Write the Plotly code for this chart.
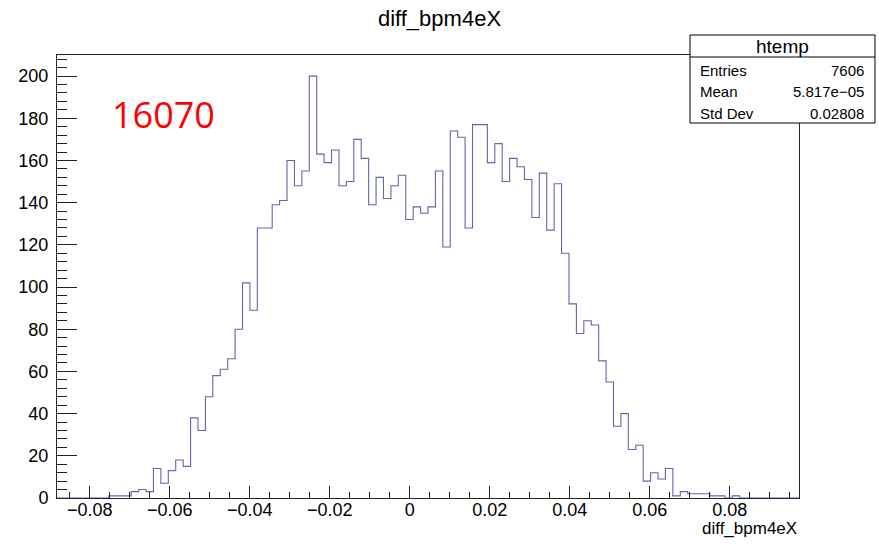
import numpy as np
import plotly.graph_objects as go

# ---- data ----
title_text = "diff_bpm4eX"
x_title = "diff_bpm4eX"
hist_name = "htemp"
x_min = -0.0882
x_max = 0.0973
n_bins = 100
counts = [0, 0, 0, 0, 0, 0, 0, 1, 1, 1,
          3, 4, 3, 14, 7, 13, 18, 15, 38, 32,
          48, 58, 61, 66, 80, 102, 89, 128, 128, 139,
          141, 160, 148, 155, 200, 163, 159, 165, 148, 150,
          170, 161, 139, 152, 142, 148, 153, 132, 138, 135,
          138, 155, 119, 174, 171, 128, 177, 177, 159, 168,
          150, 161, 157, 151, 133, 154, 127, 149, 116, 92,
          78, 84, 82, 65, 55, 34, 40, 23, 25, 8,
          12, 9, 14, 1, 3, 2, 2, 2, 1, 1,
          0, 1, 0, 0, 0, 0, 0, 0, 0, 0]
x_tick_vals = [-0.08, -0.06, -0.04, -0.02, 0, 0.02, 0.04, 0.06, 0.08]
x_tick_text = ["\u22120.08", "\u22120.06", "\u22120.04", "\u22120.02", "0", "0.02", "0.04", "0.06", "0.08"]
stats_labels = ["Entries", "Mean", "Std Dev"]
stats_values = ["7606", "5.817e\u221205", "0.02808"]
run_label = "16070"
y_max = 210

# ---- layout geometry (pixels) ----
W, H = 879, 544
L, R, T, B = 57, 80, 55, 46
pw, ph = W - L - R, H - T - B


def px_x(px):
    return (px - L) / pw


def px_y(py):
    return (H - B - py) / ph


edges = np.linspace(x_min, x_max, n_bins + 1)
ys = list(counts) + [counts[-1]]

FONT = "Liberation Sans, Arial, Helvetica, sans-serif"
hist_color = "#6464b0"
axis_color = "#222222"

fig = go.Figure()
fig.add_trace(go.Scatter(
    x=edges, y=ys, mode="lines", line_shape="hv",
    line=dict(color=hist_color, width=1.1), hoverinfo="skip", showlegend=False,
    cliponaxis=False,
))

fig.update_layout(
    width=W, height=H,
    margin=dict(l=L, r=R, t=T, b=B, pad=0, autoexpand=False),
    paper_bgcolor="white", plot_bgcolor="white",
    font=dict(family=FONT, size=16, color="black"),
    title=dict(text=title_text, x=0.5, xref="container", xanchor="center",
               y=1 - 18 / H, yref="container", yanchor="middle",
               font=dict(family=FONT, size=22, color="black")),
    showlegend=False,
)

fig.update_xaxes(
    range=[x_min, x_max], showgrid=False, zeroline=False, automargin=False,
    showline=True, linecolor=axis_color, linewidth=1, mirror=True,
    ticks="inside", ticklen=12, tickwidth=1, tickcolor=axis_color,
    tickmode="array", tickvals=x_tick_vals, ticktext=x_tick_text, tickangle=0,
    minor=dict(ticks="inside", ticklen=6, tickcolor=axis_color, dtick=0.005, tick0=0, showgrid=False),
    tickfont=dict(family=FONT, size=18),
    ticklabelstandoff=-5,
)
fig.update_yaxes(
    range=[0, y_max], showgrid=False, zeroline=False, automargin=False,
    showline=True, linecolor=axis_color, linewidth=1, mirror=True,
    ticks="inside", ticklen=20, tickwidth=1, tickcolor=axis_color,
    tick0=0, dtick=20,
    minor=dict(ticks="inside", ticklen=10, tickcolor=axis_color, dtick=4, tick0=0, showgrid=False),
    tickfont=dict(family=FONT, size=18),
    ticklabelstandoff=4,
)

# x axis title (ROOT style, right aligned under axis)
fig.add_annotation(text=x_title, xref="paper", yref="paper", x=1.0, y=0,
                   xanchor="right", yanchor="middle", yshift=-(528 - (H - B)),
                   showarrow=False, font=dict(family=FONT, size=17, color="black"))

# red run number
fig.add_annotation(text=run_label, xref="paper", yref="paper",
                   x=px_x(110), y=px_y(114), xanchor="left", yanchor="middle",
                   showarrow=False, font=dict(family="Open Sans, Liberation Sans, sans-serif", size=36, color="#ff0000"))

# stats box
bx0, bx1, by0, by1, byh = 690, 875, 35, 123, 57
fig.add_shape(type="rect", xref="paper", yref="paper",
              x0=px_x(bx0), x1=px_x(bx1), y0=px_y(by1), y1=px_y(by0),
              line=dict(color="black", width=1), fillcolor="white", layer="above")
fig.add_shape(type="line", xref="paper", yref="paper",
              x0=px_x(bx0), x1=px_x(bx1), y0=px_y(byh), y1=px_y(byh),
              line=dict(color="black", width=1), layer="above")
fig.add_annotation(text=hist_name, xref="paper", yref="paper",
                   x=px_x((bx0 + bx1) / 2), y=px_y(46), xanchor="center", yanchor="middle",
                   showarrow=False, font=dict(family=FONT, size=19, color="black"))
row_y = [70, 91.5, 113]
for lab, val, ry in zip(stats_labels, stats_values, row_y):
    fig.add_annotation(text=lab, xref="paper", yref="paper", x=px_x(698), y=px_y(ry),
                       xanchor="left", yanchor="middle", showarrow=False,
                       font=dict(family=FONT, size=15, color="black"))
    fig.add_annotation(text=val, xref="paper", yref="paper", x=px_x(866), y=px_y(ry),
                       xanchor="right", yanchor="middle", showarrow=False,
                       font=dict(family=FONT, size=15, color="black"))

fig.write_html("out.html", config={"displayModeBar": False},
               post_script="document.body.style.margin='0px';")
